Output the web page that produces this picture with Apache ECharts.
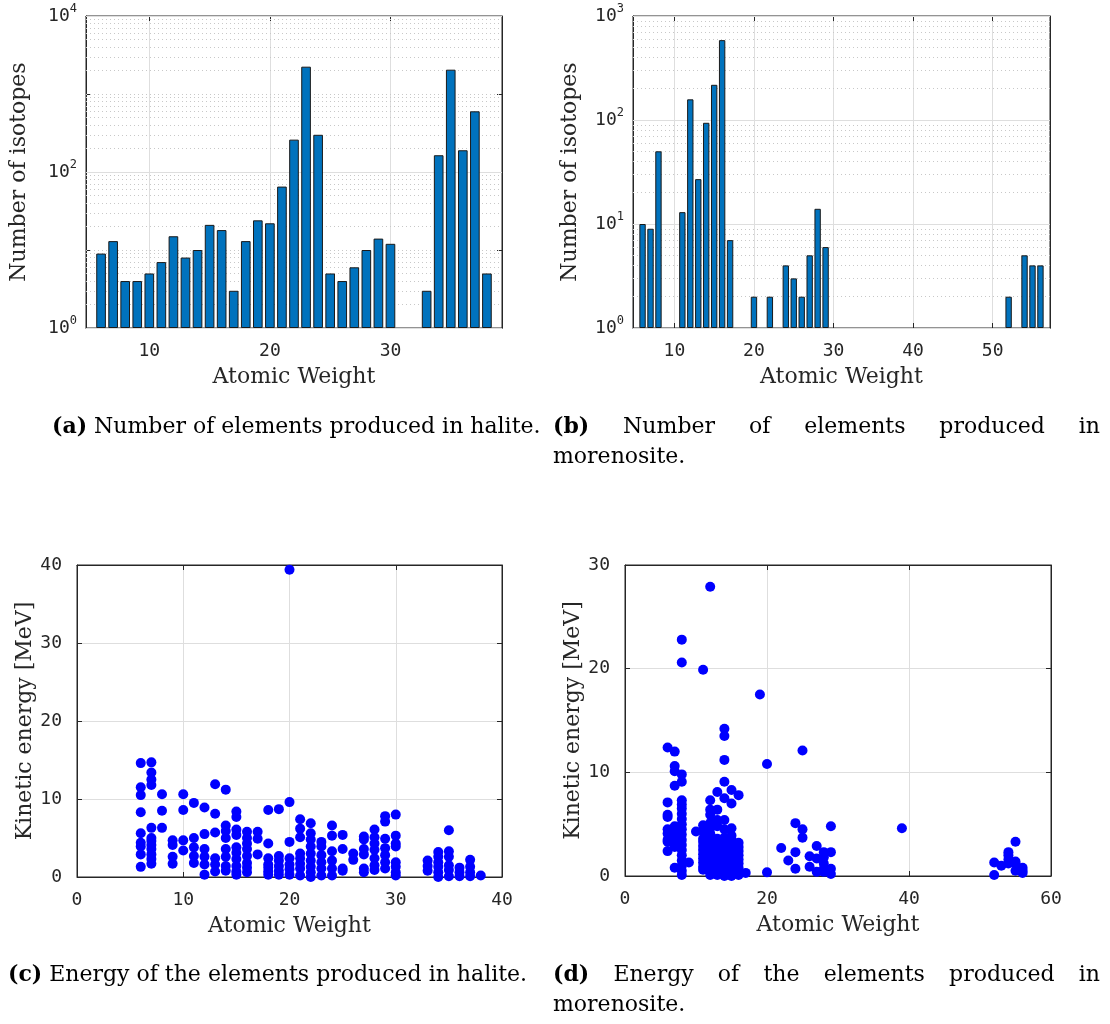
<!DOCTYPE html>
<html>
<head>
<meta charset="utf-8">
<script src="https://cdn.jsdelivr.net/npm/echarts@6/dist/echarts.min.js"></script>
<style>
  html, body { margin: 0; background: #fff; }
  #chart { width: 1110px; height: 1024px; }
</style>
</head>
<body>
<div id="chart"></div>
<script>
// (a) halite: number of isotopes per atomic weight
const haliteWeights = [6, 7, 8, 9, 10, 11, 12, 13, 14, 15, 16, 17, 18, 19, 20, 21, 22, 23, 24, 25, 26, 27, 28, 29, 30, 33, 34, 35, 36, 37, 38];
const haliteCounts = [9, 13, 4, 4, 5, 7, 15, 8, 10, 21, 18, 3, 13, 24, 22, 65, 260, 2240, 300, 5, 4, 6, 10, 14, 12, 3, 164, 2050, 190, 600, 5];

// (b) morenosite: number of isotopes per atomic weight
const morenoWeights = [6, 7, 8, 11, 12, 13, 14, 15, 16, 17, 20, 22, 24, 25, 26, 27, 28, 29, 52, 54, 55, 56];
const morenoCounts = [10, 9, 50, 13, 158, 27, 94, 218, 586, 7, 2, 2, 4, 3, 2, 5, 14, 6, 2, 5, 4, 4];

// (c) halite: kinetic energy [MeV] of each product, grouped by atomic weight
const haliteEnergyWeights = [6, 7, 8, 9, 10, 11, 12, 13, 14, 15, 16, 17, 18, 19, 20, 21, 22, 23, 24, 25, 26, 27, 28, 29, 30, 33, 34, 35, 36, 37, 38];
const haliteEnergies = [
  [14.6, 11.5, 10.5, 8.3, 5.6, 4.4, 3.9, 2.9, 1.3],
  [14.7, 13.4, 12.5, 11.8, 6.3, 5.0, 4.6, 4.1, 3.6, 2.9, 2.3, 1.7],
  [10.6, 8.5, 6.3],
  [4.7, 4.1, 2.6, 1.7],
  [10.6, 8.6, 4.7, 3.4],
  [9.5, 5.0, 3.8, 2.7, 1.8],
  [8.9, 5.5, 3.6, 2.6, 1.6, 0.3],
  [11.9, 8.1, 5.7, 2.4, 1.6, 0.7],
  [11.2, 6.6, 5.9, 5.0, 3.6, 2.6, 1.4, 0.8],
  [8.4, 7.7, 6.1, 5.4, 3.8, 3.1, 2.3, 1.4, 0.7, 0.3],
  [5.8, 5.0, 4.3, 3.6, 2.7, 1.8, 1.2, 0.6],
  [5.8, 4.9, 2.9],
  [8.6, 4.3, 2.4, 1.6, 1.2, 0.7, 0.3],
  [8.7, 2.7, 2.1, 1.4, 0.8, 0.3],
  [39.4, 9.6, 4.5, 2.4, 1.6, 1.0, 0.3],
  [7.4, 6.2, 5.1, 3.0, 2.4, 1.7, 1.1, 0.2],
  [6.9, 5.6, 4.8, 3.9, 3.0, 2.1, 1.3, 0.6, 0.0],
  [4.5, 3.9, 2.8, 1.9, 1.1, 0.2],
  [6.6, 5.3, 3.3, 2.1, 1.1, 0.2],
  [5.4, 3.6, 1.1, 0.8],
  [3.0, 2.2],
  [5.2, 4.8, 3.6, 2.9, 1.1, 0.6],
  [6.1, 5.1, 4.3, 3.5, 2.4, 1.5, 0.9],
  [7.8, 7.1, 4.9, 3.7, 2.8, 1.9, 1.1],
  [8.0, 5.3, 4.3, 3.9, 1.9, 1.3, 0.6, 0.2],
  [2.1, 1.4, 0.8],
  [3.2, 2.6, 1.9, 1.3, 0.6, 0.0],
  [6.0, 3.3, 2.6, 1.5, 0.9, 0.1],
  [1.2, 0.6, 0.1],
  [2.2, 1.3, 0.6, 0.1],
  [0.2]
];

// (d) morenosite: kinetic energy [MeV] of each product, grouped by atomic weight
const morenoEnergyWeights = [6, 7, 8, 9, 10, 11, 12, 13, 14, 15, 16, 17, 19, 20, 22, 23, 24, 25, 26, 27, 28, 29, 39, 52, 53, 54, 55, 56];
const morenoEnergies = [
  [12.4, 7.1, 5.9, 5.7, 4.5, 4.1, 3.5, 3.3, 2.4],
  [12.0, 10.6, 10.1, 8.7, 4.8, 4.4, 4.1, 3.8, 3.5, 2.8, 0.8],
  [22.8, 20.6, 9.8, 9.1, 7.3, 6.9, 6.5, 6.0, 5.5, 5.0, 4.5, 4.0, 3.5, 3.0, 2.5, 2.0, 1.5, 1.0, 0.5, 0.1],
  [1.3],
  [4.3],
  [19.9, 4.9, 4.3, 3.6, 3.3, 2.9, 2.5, 2.1, 1.7, 1.3, 0.9, 0.6],
  [27.9, 7.3, 6.4, 5.9, 5.1, 4.6, 4.1, 3.5, 3.1, 2.7, 2.3, 1.9, 1.5, 1.1, 0.7, 0.4, 0.1],
  [8.1, 6.4, 5.4, 4.8, 3.6, 3.2, 2.8, 2.4, 2.0, 1.6, 1.2, 0.8, 0.4, 0.1],
  [14.2, 13.5, 11.2, 9.1, 7.5, 5.4, 4.5, 3.7, 3.3, 2.9, 2.5, 2.1, 1.7, 1.3, 0.9, 0.5, 0.2, 0.0],
  [8.3, 7.0, 4.6, 3.9, 3.5, 3.1, 2.7, 2.3, 1.9, 1.5, 1.1, 0.7, 0.3, 0.0],
  [7.8, 3.2, 2.8, 2.4, 2.0, 1.6, 1.2, 0.8, 0.4, 0.1],
  [0.3],
  [17.5],
  [10.8, 0.35],
  [2.7],
  [1.5],
  [5.1, 2.3, 0.7],
  [12.1, 4.5, 3.7],
  [1.9, 0.9],
  [2.9, 1.7, 0.4],
  [2.3, 1.8, 1.2, 0.7, 0.4],
  [4.8, 2.3, 0.7, 0.2],
  [4.6],
  [1.3, 0.1],
  [1.0],
  [2.3, 2.0, 1.6, 1.2],
  [3.3, 1.4, 1.2, 0.5],
  [0.8, 0.5, 0.3]
];

// 样式常量
const TXT = '#262626';
const SERIF = '"DejaVu Serif", serif';
const MONO = '"DejaVu Sans Mono", monospace';
const GRID_COLOR = '#dedede';
const MINOR_COLOR = '#c8c8c8';
const BAR_BLUE = '#0072bd';
const DOT_BLUE = '#0000ff';

const grids = [
  { left: 86, top: 16, width: 416, height: 312 },
  { left: 633, top: 16, width: 417, height: 312 },
  { left: 77, top: 565, width: 425, height: 312 },
  { left: 625, top: 565, width: 426, height: 311 }
];

const pairs = (xs, ys) => xs.map((x, i) => [x, ys[i]]);
const scatterPoints = (weights, groups) => {
  const pts = [];
  weights.forEach((w, i) => groups[i].forEach((e) => pts.push([w, e])));
  return pts;
};

// 对数轴网格线: 主刻度为实线, 其余为点线
const logGridLines = (maxExp, labelStep) => {
  const lines = [];
  for (let e = 0; e <= maxExp; e++) {
    const base = Math.pow(10, e);
    const major = e % labelStep === 0;
    lines.push({ yAxis: base, lineStyle: { color: major ? GRID_COLOR : MINOR_COLOR, type: major ? 'solid' : [1, 3], width: 1 } });
    if (e === maxExp) break;
    for (let m = 2; m <= 9; m++) {
      lines.push({ yAxis: m * base, lineStyle: { color: MINOR_COLOR, type: [1, 3], width: 1 } });
    }
  }
  return lines;
};

const logLabel = (labelStep) => (value) => {
  const e = Math.round(Math.log10(value));
  if (e % labelStep !== 0) return '';
  return '{b|10}{s|' + e + '}';
};

const labelStyle = { color: TXT, fontFamily: MONO, fontSize: 18 };
const supRich = {
  b: { fontFamily: MONO, fontSize: 18, color: TXT },
  s: { fontFamily: MONO, fontSize: 12, color: TXT, padding: [0, 0, 14, 0] }
};
const nameStyle = { color: TXT, fontFamily: SERIF, fontSize: 22 };
const tick = { show: true, inside: true, length: 5, lineStyle: { color: TXT } };
const axisLine = { show: true, onZero: false, lineStyle: { color: TXT, width: 1 } };
const split = { show: true, lineStyle: { color: GRID_COLOR, width: 1 } };

// 下/左主坐标轴
const xAxes = [
  { gridIndex: 0, type: 'value', min: 4.75, max: 39.25, splitNumber: 3, name: 'Atomic Weight', nameGap: 38 },
  { gridIndex: 1, type: 'value', min: 4.8, max: 57.2, splitNumber: 5, name: 'Atomic Weight', nameGap: 38 },
  { gridIndex: 2, type: 'value', min: 0, max: 40, interval: 10, name: 'Atomic Weight', nameGap: 38 },
  { gridIndex: 3, type: 'value', min: 0, max: 60, interval: 20, name: 'Atomic Weight', nameGap: 38 }
].map((a) => Object.assign(a, {
  position: 'bottom',
  nameLocation: 'middle',
  nameTextStyle: nameStyle,
  axisLine, axisTick: tick, splitLine: split,
  axisLabel: Object.assign({ margin: 14, showMinLabel: a.min === 0, showMaxLabel: a.min === 0 }, labelStyle)
}));

const yAxes = [
  { gridIndex: 0, type: 'log', logBase: 10, min: 1, max: 10000, name: 'Number of isotopes', nameGap: 56,
    splitLine: { show: false }, axisLabel: { formatter: logLabel(2), rich: supRich, margin: 9 } },
  { gridIndex: 1, type: 'log', logBase: 10, min: 1, max: 1000, name: 'Number of isotopes', nameGap: 52,
    splitLine: { show: false }, axisLabel: { formatter: logLabel(1), rich: supRich, margin: 9 } },
  { gridIndex: 2, type: 'value', min: 0, max: 40, interval: 10, name: 'Kinetic energy [MeV]', nameGap: 41,
    splitLine: split, axisLabel: Object.assign({ margin: 15 }, labelStyle) },
  { gridIndex: 3, type: 'value', min: 0, max: 30, interval: 10, name: 'Kinetic energy [MeV]', nameGap: 41,
    splitLine: split, axisLabel: Object.assign({ margin: 15 }, labelStyle) }
].map((a) => Object.assign(a, {
  position: 'left',
  nameLocation: 'middle',
  nameTextStyle: nameStyle,
  axisLine, axisTick: tick
}));

// 上/右镜像坐标轴, 只画刻度
xAxes.slice().forEach((a) => xAxes.push({
  gridIndex: a.gridIndex, type: 'value', min: a.min, max: a.max, interval: a.interval, splitNumber: a.splitNumber,
  position: 'top', axisLine, axisTick: tick, axisLabel: { show: false }, splitLine: { show: false }
}));
yAxes.slice().forEach((a) => yAxes.push({
  gridIndex: a.gridIndex, type: a.type, logBase: a.logBase, min: a.min, max: a.max, interval: a.interval,
  position: 'right', axisLine, axisTick: tick, axisLabel: { show: false }, splitLine: { show: false }
}));

const barSeries = (idx, xs, ys, maxExp, labelStep) => ({
  type: 'bar',
  xAxisIndex: idx,
  yAxisIndex: idx,
  data: pairs(xs, ys),
  barWidth: '80%',
  z: 3,
  itemStyle: { color: BAR_BLUE, borderColor: '#1a1a1a', borderWidth: 1 },
  markLine: {
    silent: true,
    symbol: ['none', 'none'],
    label: { show: false },
    animation: false,
    z: 1,
    data: logGridLines(maxExp, labelStep)
  }
});

const scatterSeries = (idx, weights, groups) => ({
  type: 'scatter',
  xAxisIndex: idx,
  yAxisIndex: idx,
  data: scatterPoints(weights, groups),
  symbolSize: 10,
  itemStyle: { color: DOT_BLUE, opacity: 1 },
  z: 3
});

// 图注: 两端对齐的行按单词摆放
const CAP_SIZE = 22;
const measureCtx = document.createElement('canvas').getContext('2d');
const textWidth = (str, bold) => {
  measureCtx.font = (bold ? 'bold ' : '') + CAP_SIZE + 'px "DejaVu Serif"';
  return measureCtx.measureText(str).width;
};
const capText = (str, x, y, bold) => ({
  type: 'text', x, y, silent: true,
  style: { text: str, fill: '#000', fontFamily: SERIF, fontSize: CAP_SIZE, fontWeight: bold ? 'bold' : 'normal', verticalAlign: 'middle' }
});
const captionLine = (words, x0, y, x1) => {
  const widths = words.map((w, i) => textWidth(w, i === 0));
  const total = widths.reduce((s, v) => s + v, 0);
  const gap = x1 == null ? textWidth(' ', false) : (x1 - x0 - total) / (words.length - 1);
  let x = x0;
  return words.map((w, i) => {
    const el = capText(w, x, y, i === 0);
    x += widths[i] + gap;
    return el;
  });
};

const captions = [
  ...captionLine(['(a)', 'Number', 'of', 'elements', 'produced', 'in', 'halite.'], 52, 427),
  ...captionLine(['(b)', 'Number', 'of', 'elements', 'produced', 'in'], 553, 427, 1100),
  capText('morenosite.', 553, 457, false),
  ...captionLine(['(c)', 'Energy', 'of', 'the', 'elements', 'produced', 'in', 'halite.'], 8, 975),
  ...captionLine(['(d)', 'Energy', 'of', 'the', 'elements', 'produced', 'in'], 553, 975, 1100),
  capText('morenosite.', 553, 1005, false)
];

const chart = echarts.init(document.getElementById('chart'), null, { renderer: 'canvas' });
chart.setOption({
  animation: false,
  backgroundColor: '#fff',
  grid: grids.map((g) => Object.assign({
    containLabel: false, outerBoundsMode: 'none',
    show: true, borderColor: TXT, borderWidth: 1, backgroundColor: 'transparent'
  }, g)),
  xAxis: xAxes,
  yAxis: yAxes,
  series: [
    barSeries(0, haliteWeights, haliteCounts, 4, 2),
    barSeries(1, morenoWeights, morenoCounts, 3, 1),
    scatterSeries(2, haliteEnergyWeights, haliteEnergies),
    scatterSeries(3, morenoEnergyWeights, morenoEnergies)
  ],
  graphic: captions
});
</script>
</body>
</html>
